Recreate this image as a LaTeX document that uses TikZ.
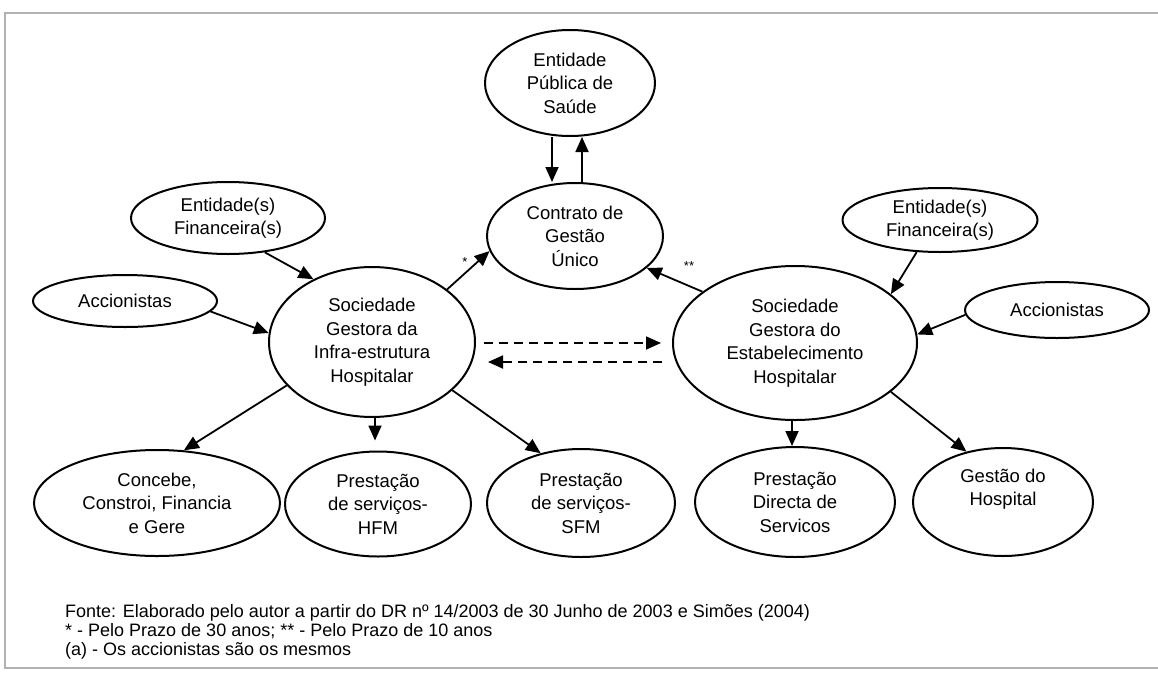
\documentclass[tikz,border=0pt]{standalone}
\usepackage{fontspec}
\setmainfont{Liberation Sans}
\usetikzlibrary{arrows.meta,shapes.geometric,calc}
\begin{document}
\begin{tikzpicture}[x=1pt,y=-1pt,
  oval/.style={ellipse,draw,line width=2pt,inner sep=0pt,align=center,
    font=\fontsize{18.5}{23.5}\selectfont},
  arr/.style={line width=1.8pt,-{Triangle[length=15pt,width=13pt]}},
  dsh/.style={arr,dash pattern=on 9pt off 6pt},
  note/.style={anchor=base west,inner sep=0pt,font=\fontsize{18}{20}\selectfont},
  starlbl/.style={inner sep=0pt,font=\fontsize{13}{13}\selectfont}]
\useasboundingbox (0,0) rectangle (1158,672);
\fill[white] (0,0) rectangle (1158,672);
\draw[black!30,line width=2pt] (1158,13) -- (5,13) -- (5,668) -- (1158,668);

% nodes
\node[oval,minimum width=170pt,minimum height=106pt] (eps) at (570,83) {Entidade\\Pública de\\Saúde};
\node[oval,minimum width=176pt,minimum height=106pt] (ctr) at (575,236) {Contrato de\\Gestão\\Único};
\node[oval,minimum width=206pt,minimum height=150pt] (infra) at (372,342) {Sociedade\\Gestora da\\Infra-estrutura\\Hospitalar};
\node[oval,minimum width=244pt,minimum height=154pt] (estab) at (795,343) {Sociedade\\Gestora do\\Estabelecimento\\Hospitalar};
\node[oval,minimum width=194pt,minimum height=72pt] (efl) at (228,218) {Entidade(s)\\Financeira(s)};
\node[oval,minimum width=184pt,minimum height=52pt] (accl) at (125,301) {Accionistas};
\node[oval,minimum width=195pt,minimum height=64pt] (efr) at (940,220) {Entidade(s)\\Financeira(s)};
\node[oval,minimum width=184pt,minimum height=56pt] (accr) at (1057,310) {Accionistas};
\node[oval,minimum width=246pt,minimum height=106pt] (conc) at (157,503) {Concebe,\\Constroi, Financia\\e Gere};
\node[oval,minimum width=186pt,minimum height=105pt] (hfm) at (378,504) {Prestação\\de serviços-\\HFM};
\node[oval,minimum width=188pt,minimum height=108pt] (sfm) at (581,503) {Prestação\\de serviços-\\SFM};
\node[oval,minimum width=200pt,minimum height=110pt] (dir) at (795,502) {Prestação\\Directa de\\Servicos};
\node[oval,minimum width=180pt,minimum height=108pt] (ges) at (1003,502) {Gestão do\\Hospital\\[6pt]};

% connectors
\draw[arr] ($(eps.south)+(-18,0)$) -- ($(ctr.north)+(-23,0)$);
\draw[arr] ($(ctr.north)+(7,0)$) -- ($(eps.south)+(12,0)$);
\draw[arr] (infra.35) -- (ctr.190);
\draw[arr] (estab.151) -- (ctr.336);
\draw[dsh] ($(infra.east)+(8,1)$) -- ($(estab.west)+(-11,0)$);
\draw[dsh] ($(estab.west)+(-10,19)$) -- ($(infra.east)+(12,20)$);
\draw[arr] (efl.317) -- (infra.133);
\draw[arr] (accl.353) -- (infra.175);
\draw[arr] (efr.234) -- (estab.27);
\draw[arr] (accr.183) -- (estab.4);
\draw[arr] (infra.207) -- (conc.63);
\draw[arr] ($(infra.south)+(3,0)$) -- ($(hfm.north)+(-3,-10)$);
\draw[arr] (infra.329) -- (sfm.129);
\draw[arr] ($(estab.south)+(-3,0)$) -- ($(dir.north)+(-3,0)$);
\draw[arr] (estab.333) -- (ges.126);

% marks
\node[starlbl] (star1) at (465,262) {*};
\node[starlbl] (star2) at (689,266) {**};

% footer
\node[note] (foot1) at (65,617) {Fonte: Elaborado pelo autor a partir do DR nº 14/2003 de 30 Junho de 2003 e Simões (2004)};
\node[note] (foot2) at (65,636) {* - Pelo Prazo de 30 anos; ** - Pelo Prazo de 10 anos};
\node[note] (foot3) at (65,655) {(a) - Os accionistas são os mesmos};
\end{tikzpicture}
\end{document}
